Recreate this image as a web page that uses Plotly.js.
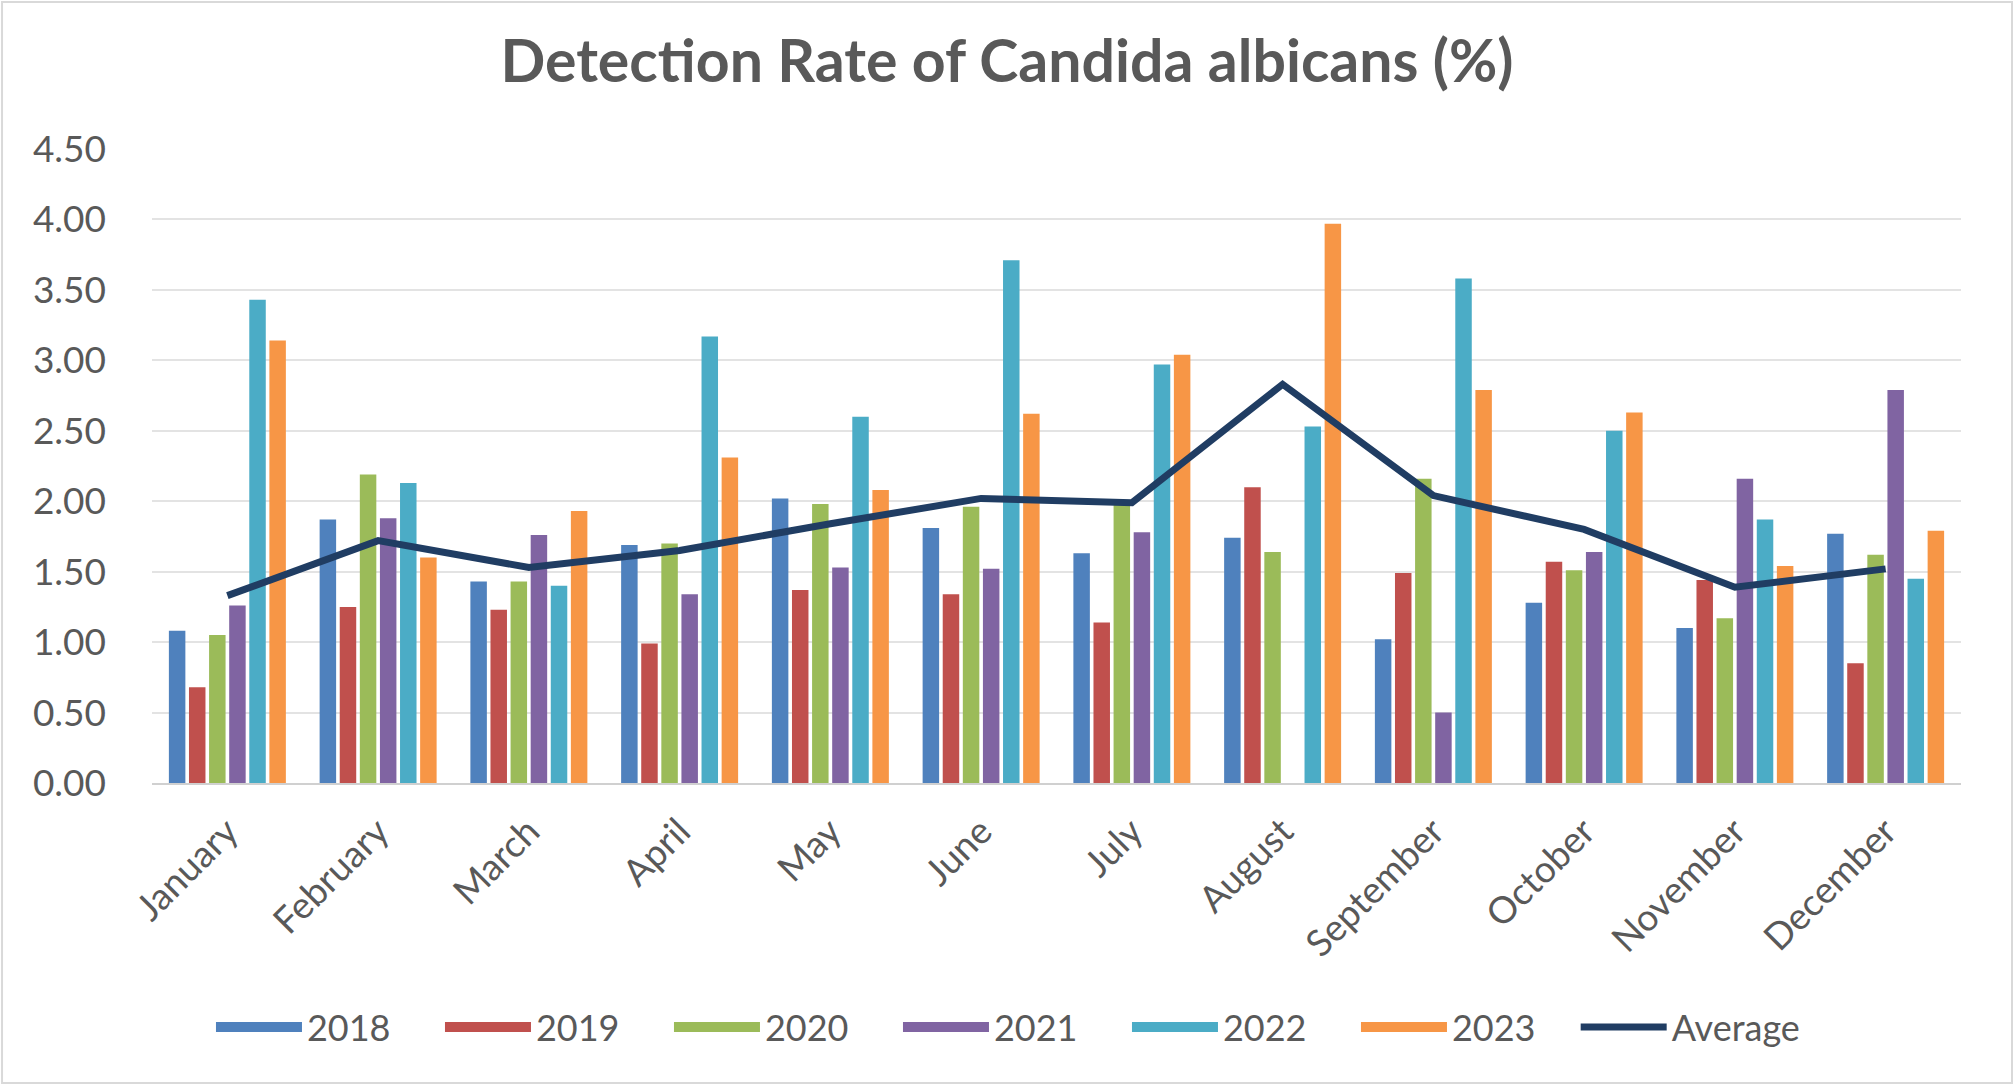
<!DOCTYPE html>
<html>
<head>
<meta charset="utf-8">
<script src="https://cdn.plot.ly/plotly-3.0.1.min.js"></script>
<style>html,body{margin:0;padding:0;background:#fff;}#chart{width:2014px;height:1085px;}</style>
</head>
<body>
<div id="chart"></div>
<script>
const months = ["January","February","March","April","May","June","July","August","September","October","November","December"];
const y2018 = [1.08,1.87,1.43,1.69,2.02,1.81,1.63,1.74,1.02,1.28,1.10,1.77];
const y2019 = [0.68,1.25,1.23,0.99,1.37,1.34,1.14,2.10,1.49,1.57,1.44,0.85];
const y2020 = [1.05,2.19,1.43,1.70,1.98,1.96,1.99,1.64,2.16,1.51,1.17,1.62];
const y2021 = [1.26,1.88,1.76,1.34,1.53,1.52,1.78,null,0.50,1.64,2.16,2.79];
const y2022 = [3.43,2.13,1.40,3.17,2.60,3.71,2.97,2.53,3.58,2.50,1.87,1.45];
const y2023 = [3.14,1.60,1.93,2.31,2.08,2.62,3.04,3.97,2.79,2.63,1.54,1.79];
const average = [1.33,1.72,1.53,1.65,1.84,2.02,1.99,2.83,2.04,1.80,1.39,1.52];
const seriesNames = ["2018","2019","2020","2021","2022","2023"];
const seriesColors = ["#4F81BD","#C0504D","#9BBB59","#8064A2","#4BACC6","#F79646"];
const seriesValues = [y2018,y2019,y2020,y2021,y2022,y2023];
const yTicks = [0,0.5,1,1.5,2,2.5,3,3.5,4,4.5];

const font = "Lato, 'Open Sans', sans-serif";
const traces = seriesValues.map((v,i)=>({
  type:"bar", name:seriesNames[i], x:months, y:v,
  marker:{color:seriesColors[i]}, showlegend:false, legendgroup:seriesNames[i]
}));
// legend entries drawn as wide swatches (no data)
seriesNames.forEach((n,i)=>traces.push({
  type:"scatter", mode:"lines", name:n, x:[null], y:[null],
  line:{color:seriesColors[i], width:20}, legendgroup:n, showlegend:true, legend:"legend"
}));
traces.push({
  type:"scatter", mode:"lines", name:"Average", x:months, y:average,
  line:{color:"#203D63", width:7}, legend:"legend2"
});

const layout = {
  width:2014, height:1085,
  paper_bgcolor:"#ffffff", plot_bgcolor:"#ffffff",
  margin:{l:152, r:53, t:149, b:302},
  font:{family:font, color:"#595959", size:36},
  title:{text:"<b>Detection Rate of Candida albicans (%)</b>", x:0.5, xanchor:"center", y:0.943, yanchor:"middle",
         font:{family:font, size:59, color:"#595959"}},
  barmode:"group", bargap:0.2, bargroupgap:0.18,
  xaxis:{tickangle:-45, showgrid:false, showline:true, linecolor:"#D0D0D0", linewidth:2,
         ticks:"", tickfont:{size:37, color:"#595959"}, ticklabelstandoff:10, automargin:false},
  yaxis:{range:[0,4.5], tickvals:yTicks, ticktext:yTicks.map(v=>v.toFixed(2)),
         showgrid:true, gridcolor:"#E3E3E3", gridwidth:2, zeroline:false, showline:false,
         ticks:"", ticklen:0, tickfont:{size:37, color:"#595959"}, ticklabelstandoff:45, automargin:false},
  legend:{orientation:"h", x:0.0326, xanchor:"left", y:-0.385, yanchor:"middle",
          font:{size:36, color:"#595959"}, itemwidth:86, entrywidth:128, traceorder:"normal"},
  legend2:{orientation:"h", x:0.787, xanchor:"left", y:-0.385, yanchor:"middle",
          font:{size:36, color:"#595959"}, itemwidth:86},
  showlegend:true,
  shapes:[{type:"rect", xref:"paper", yref:"paper", x0:-0.0829, x1:1.0282, y0:-0.473, y1:1.232,
           line:{color:"#D9D9D9", width:2}, fillcolor:"rgba(0,0,0,0)", layer:"below"}]
};
Plotly.newPlot("chart", traces, layout, {staticPlot:true, displayModeBar:false});
</script>
</body>
</html>
